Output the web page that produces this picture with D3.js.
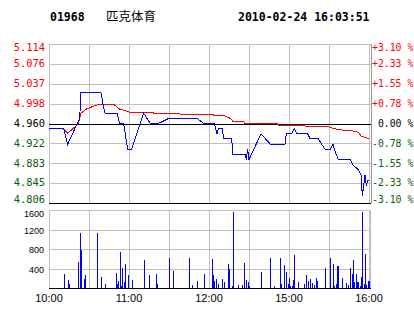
<!DOCTYPE html>
<html>
<head>
<meta charset="utf-8">
<script src="https://cdn.jsdelivr.net/npm/d3@7"></script>
<style>
  body { margin: 0; background: #fff; }
  text { font-family: "DejaVu Sans Mono", monospace; }
</style>
</head>
<body>
<svg id="chart" width="414" height="314"></svg>
<script>
const stockCode = '01968';
const stockName = '匹克体育';
const stamp = '2010-02-24 16:03:51';
const prevClose = 4.960;

// y axis labels of the price panel
const priceTicks = [5.114, 5.076, 5.037, 4.998, 4.960, 4.922, 4.883, 4.845, 4.806];
const pctTicks = ['+3.10 %', '+2.33 %', '+1.55 %', '+0.78 %', ' 0.00 %', '-0.78 %', '-1.55 %', '-2.33 %', '-3.10 %'];
const volTicks = [1600, 1200, 800, 400];
const timeTicks = ['10:00', '11:00', '12:00', '15:00', '16:00'];

// last price
const priceTimes = [
  '10:00', '10:11', '10:14', '10:23', '10:24', '10:39', '10:41', '10:42', '10:51',
  '10:53', '10:56', '10:59', '11:02', '11:11', '11:16', '11:22', '11:30', '11:51',
  '11:56', '12:04', '12:06', '12:07', '12:10', '12:11', '12:17', '12:18', '12:27',
  '12:28', '12:29', '14:30', '14:39', '14:46', '14:57', '14:58', '15:02', '15:04',
  '15:06', '15:14', '15:16', '15:22', '15:27', '15:31', '15:33', '15:34', '15:37',
  '15:46', '15:48', '15:52', '15:54', '15:55', '15:57', '15:58', '15:59', '16:00'
];
const prices = [
  4.95, 4.95, 4.92, 4.97, 5.02, 5.02, 4.99, 4.98, 4.98,
  4.96, 4.96, 4.91, 4.91, 4.98, 4.96, 4.96, 4.97, 4.97,
  4.96, 4.96, 4.94, 4.95, 4.95, 4.93, 4.93, 4.90, 4.90,
  4.89, 4.91, 4.89, 4.94, 4.92, 4.92, 4.94, 4.94, 4.95,
  4.94, 4.94, 4.93, 4.93, 4.91, 4.91, 4.92, 4.91, 4.89,
  4.89, 4.88, 4.87, 4.86, 4.82, 4.86, 4.84, 4.85, 4.85
];

// average price
const avgTimes = [
  '10:00', '10:11', '10:14', '10:18', '10:22', '10:24', '10:28', '10:32', '10:36', '10:49',
  '10:53', '10:59', '11:01', '11:18', '11:19', '11:38', '11:39', '12:03', '12:04', '12:12',
  '12:13', '12:16', '12:18', '12:26', '12:27', '14:51', '14:52', '15:11', '15:12', '15:29',
  '15:31', '15:37', '15:47', '15:52', '15:54', '15:57', '16:00'
];
const avgPrices = [
  4.950, 4.950, 4.941, 4.950, 4.960, 4.980, 4.988, 4.992, 4.996, 4.996,
  4.988, 4.983, 4.981, 4.981, 4.979, 4.979, 4.977, 4.977, 4.975, 4.975,
  4.973, 4.970, 4.964, 4.964, 4.960, 4.960, 4.957, 4.957, 4.955, 4.955,
  4.952, 4.948, 4.946, 4.943, 4.936, 4.933, 4.931
];

// volume (lots)
const volTimes = [
  '10:11', '10:14', '10:15', '10:22', '10:23', '10:24', '10:26', '10:27', '10:36', '10:39',
  '10:42', '10:50', '10:51', '10:52', '10:53', '10:54', '10:55', '10:56', '10:57', '10:59',
  '11:02', '11:11', '11:15', '11:20', '11:21', '11:30', '11:33', '11:45', '11:47', '11:51',
  '11:56', '12:02', '12:03', '12:04', '12:05', '12:07', '12:10', '12:11', '12:14', '12:15',
  '12:17', '12:18', '12:22', '12:25', '12:26', '12:28', '12:29', '14:30', '14:39', '14:46',
  '14:49', '14:53', '14:54', '14:56', '14:58', '14:59', '15:00', '15:01', '15:02', '15:03',
  '15:04', '15:07', '15:11', '15:13', '15:14', '15:16', '15:17', '15:19', '15:20', '15:21',
  '15:27', '15:31', '15:33', '15:34', '15:35', '15:36', '15:37', '15:40', '15:43', '15:44',
  '15:46', '15:47', '15:48', '15:49', '15:50', '15:51', '15:52', '15:53', '15:54', '15:55',
  '15:56', '15:57', '15:58', '15:59', '16:00'
];
const volumes = [
  290, 170, 90, 540, 1120, 780, 190, 270, 1120, 230,
  90, 310, 90, 150, 740, 50, 410, 130, 490, 260,
  170, 570, 260, 280, 90, 610, 350, 610, 70, 150,
  290, 590, 260, 150, 190, 80, 190, 130, 490, 390,
  50, 1560, 70, 70, 510, 170, 130, 50, 330, 620,
  50, 620, 90, 470, 330, 90, 210, 50, 50, 170,
  670, 130, 90, 270, 150, 190, 110, 70, 210, 150,
  410, 610, 490, 50, 90, 450, 450, 210, 110, 70,
  410, 290, 570, 130, 290, 130, 130, 50, 230, 1560,
  90, 690, 70, 150, 140
];

// trading minute index: 10:00-12:30 then 14:30-16:00
function tradeMinute(t) {
  const [h, m] = t.split(':').map(Number);
  const mins = h * 60 + m;
  return mins >= 870 ? 150 + mins - 870 : mins - 600;
}

const svg = d3.select('#chart');
const left = 49, right = 371;
const x = d3.scaleLinear().domain([0, 240]).range([49, 369]);
const py = d3.scaleLinear().domain([4.806, 5.114]).range([203, 44]);
const vy = d3.scaleLinear().domain([0, 1600]).range([288, 210]);
const snap = v => Math.round(v) + 0.5;

const RED = '#ff0000', GREEN = '#0b5d0b', GRID = '#c0c0c0';

// header
svg.append('text').attr('x', 50).attr('y', 21)
  .style('font-weight', 'bold').style('font-size', '11.5px').text(stockCode);
svg.append('text').attr('x', 106).attr('y', 21)
  .style('font-family', '"Noto Sans CJK SC"').style('font-size', '12.5px').text(stockName);
svg.append('text').attr('x', 238).attr('y', 21)
  .style('font-weight', 'bold').style('font-size', '11.5px').text(stamp);

// grid
const gridMinutes = d3.range(0, 241, 30);
const g = svg.append('g').attr('shape-rendering', 'crispEdges');
gridMinutes.forEach(m => {
  g.append('line').attr('x1', snap(x(m))).attr('x2', snap(x(m)))
    .attr('y1', py(5.114)).attr('y2', py(4.806)).attr('stroke', GRID);
  g.append('line').attr('x1', snap(x(m))).attr('x2', snap(x(m)))
    .attr('y1', vy(1600)).attr('y2', vy(0)).attr('stroke', GRID);
});
priceTicks.forEach(p => {
  g.append('line').attr('x1', left).attr('x2', right)
    .attr('y1', snap(py(p))).attr('y2', snap(py(p)))
    .attr('stroke', (p === prevClose || p === 4.806) ? '#000' : GRID);
});
volTicks.forEach(v => {
  g.append('line').attr('x1', left).attr('x2', right)
    .attr('y1', snap(vy(v))).attr('y2', snap(vy(v))).attr('stroke', GRID);
});
g.append('line').attr('x1', left).attr('x2', right)
  .attr('y1', snap(vy(0))).attr('y2', snap(vy(0))).attr('stroke', '#000');
// right borders
g.append('line').attr('x1', right + 0.5).attr('x2', right + 0.5)
  .attr('y1', py(5.114)).attr('y2', py(4.806)).attr('stroke', '#999');
g.append('line').attr('x1', right - 0.5).attr('x2', right - 0.5)
  .attr('y1', vy(1600)).attr('y2', vy(0)).attr('stroke', GRID);

// volume bars
svg.append('g').attr('shape-rendering', 'crispEdges')
  .selectAll('rect').data(volumes).join('rect')
  .attr('x', (d, i) => Math.round(x(tradeMinute(volTimes[i]))))
  .attr('width', 1)
  .attr('y', d => vy(d))
  .attr('height', d => vy(0) - vy(d))
  .attr('fill', '#0000ff');

// average and price lines
const line = d3.line()
  .x(d => x(tradeMinute(d[0])))
  .y(d => py(d[1]));

svg.append('path')
  .attr('d', line(avgTimes.map((t, i) => [t, avgPrices[i]])))
  .attr('fill', 'none').attr('stroke', RED).attr('stroke-width', 1)
  .attr('shape-rendering', 'crispEdges');

svg.append('path')
  .attr('d', line(priceTimes.map((t, i) => [t, prices[i]])))
  .attr('fill', 'none').attr('stroke', '#0000ff').attr('stroke-width', 1)
  .attr('shape-rendering', 'crispEdges');

// price labels (left) and percent labels (right)
const labelY = (p, i) => {
  const yy = py(p) + 3.5;
  if (i === 0) return py(p) + 6.5;
  if (i === priceTicks.length - 1) return py(p);
  return yy;
};
const labelColor = p => p > prevClose ? RED : (p < prevClose ? GREEN : '#000');

svg.append('g').selectAll('text').data(priceTicks).join('text')
  .attr('x', 45).attr('y', labelY)
  .attr('text-anchor', 'end')
  .style('font-size', '10.4px')
  .attr('fill', labelColor)
  .text(d => d.toFixed(3));

svg.append('g').selectAll('text').data(priceTicks).join('text')
  .attr('x', 372).attr('y', labelY)
  .style('font-size', '9.8px')
  .style('white-space', 'pre')
  .attr('fill', labelColor)
  .text((d, i) => pctTicks[i]);

// volume labels
svg.append('g').selectAll('text').data(volTicks).join('text')
  .attr('x', 44)
  .attr('y', (d, i) => i === 0 ? vy(d) + 7 : vy(d) + 4)
  .attr('text-anchor', 'end')
  .style('font-family', '"Liberation Sans", Arial, sans-serif')
  .style('font-size', '9px')
  .text(d => d);

// time labels
svg.append('g').selectAll('text').data(timeTicks).join('text')
  .attr('x', d => x(tradeMinute(d)))
  .attr('y', 302)
  .attr('text-anchor', 'middle')
  .style('font-family', '"Liberation Sans", Arial, sans-serif')
  .style('font-size', '11px')
  .text(d => d);
</script>
</body>
</html>
